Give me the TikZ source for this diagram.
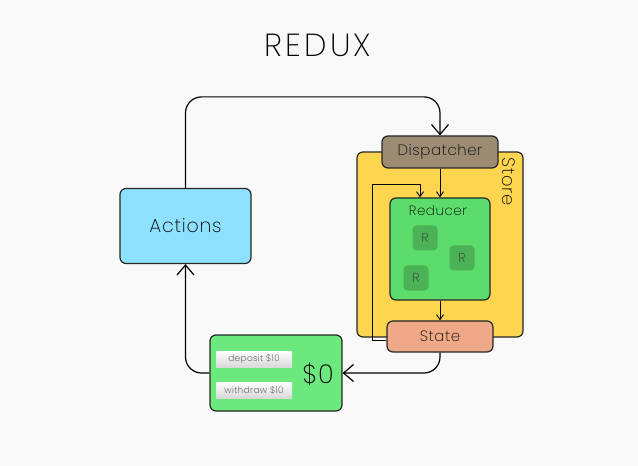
\documentclass[tikz,border=0pt]{standalone}
\usepackage{fontspec}
\setmainfont{Poppins ExtraLight}[LetterSpace=4]
\newfontfamily\titlefont{Poppins ExtraLight}[LetterSpace=10]
\usepackage{tikz}
\usetikzlibrary{arrows.meta}

\definecolor{bgcol}{HTML}{F9F9F9}
\definecolor{actcol}{HTML}{8EE1FE}
\definecolor{storecol}{HTML}{FFD54F}
\definecolor{dispcol}{HTML}{9C8C74}
\definecolor{redcol}{HTML}{5BDC6B}
\definecolor{rcol}{HTML}{4BB355}
\definecolor{statecol}{HTML}{EFA888}
\definecolor{moneycol}{HTML}{6DE87F}

\begin{document}
\begin{tikzpicture}[x=1bp, y=-1bp,
        box/.style={draw=black!85, line width=1.2bp, rounded corners=6bp, inner sep=0pt},
        rbox/.style={fill=rcol, rounded corners=4bp, minimum size=25bp, inner sep=0pt, font=\fontsize{13}{13}\selectfont, text=black!80},
        btn/.style={top color=white, bottom color=black!15, minimum width=76bp, minimum height=16bp, inner sep=0pt, font=\fontsize{9}{9}\selectfont, text=black!80},
        big/.style={-{Straight Barb[length=10bp, width=17bp]}, line width=1.2bp, rounded corners=16bp},
        small/.style={-{Straight Barb[length=5bp, width=7bp]}, line width=0.9bp}]

        \fill[bgcol] (0, 0) rectangle (638, 466);

        \node at (318, 45) (title) {\titlefont\fontsize{32}{32}\selectfont REDUX};

        \node[box, fill=actcol, minimum width=131bp, minimum height=75bp, font=\fontsize{19}{19}\selectfont] at (185.5, 226) (Actions) {Actions};

        \node[box, fill=storecol, minimum width=166bp, minimum height=185bp] at (440, 244.5) (Store) {};
        \node[rotate=-90, font=\fontsize{18}{18}\selectfont] at (509, 182) (storelabel) {Store};

        \node[box, fill=dispcol, minimum width=116bp, minimum height=32bp, font=\fontsize{15}{15}\selectfont] at (440, 152) (Dispatcher) {Dispatcher};

        \node[box, fill=redcol, minimum width=100bp, minimum height=102bp] at (440, 249) (Reducer) {};
        \node[font=\fontsize{13.5}{14}\selectfont] at (438, 211) (reducerlabel) {Reducer};
        \node[rbox] at (425, 238) (R1) {R};
        \node[rbox] at (462, 258) (R2) {R};
        \node[rbox] at (416, 278) (R3) {R};

        \node[box, fill=statecol, minimum width=106bp, minimum height=31bp, font=\fontsize{15}{15}\selectfont] at (440, 336.5) (State) {State};

        \node[box, fill=moneycol, minimum width=132bp, minimum height=76bp] at (276, 373) (Money) {};
        \node[font=\fontsize{26}{26}\selectfont] at (318, 374) (balance) {\$0};
        \node[btn] at (254, 359) (deposit) {deposit \$10};
        \node[btn] at (254, 390) (withdraw) {withdraw \$10};

        \coordinate (loop) at (372, 184);

        \draw[big] (Actions.north) -- ++(0, -91) -| (Dispatcher.north);
        \draw[small] (Dispatcher.south) -- (Reducer.north);
        \draw[small] (Reducer.south) -- (State.north);
        \draw[small] ([yshift=-4bp]State.west) -| (loop) -| ([xshift=-20bp]Reducer.north);
        \draw[big] (State.south) |- (Money.east);
        \draw[big] (Money.west) -| (Actions.south);
    \end{tikzpicture}
\end{document}
